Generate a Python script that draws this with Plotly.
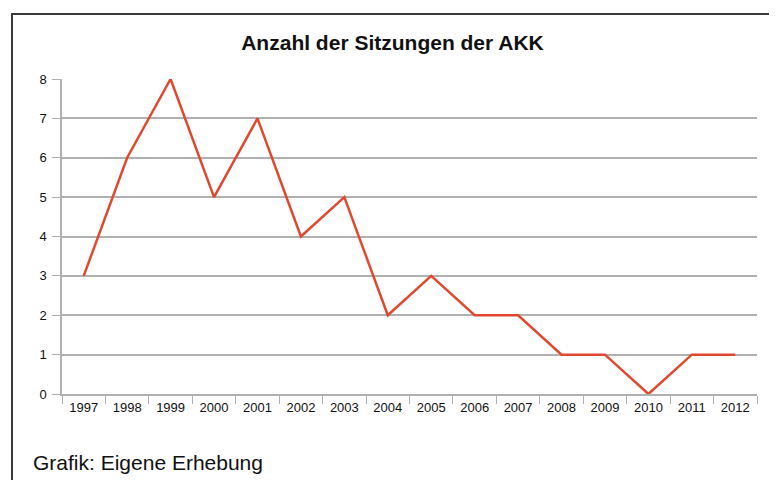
import plotly.graph_objects as go

years = ["1997", "1998", "1999", "2000", "2001", "2002", "2003", "2004",
         "2005", "2006", "2007", "2008", "2009", "2010", "2011", "2012"]
sitzungen = [3, 6, 8, 5, 7, 4, 5, 2, 3, 2, 2, 1, 1, 0, 1, 1]
y_ticks = [0, 1, 2, 3, 4, 5, 6, 7, 8]

# page has an 8px body margin: work in page coordinates and shift
OFF = 8
W, H = 769, 472
L, R, T, B = 62 - OFF, 20, 79 - OFF, 86
pw, ph = W - L - R, H - T - B

def px(x):
    return (x - OFF - L) / pw

def py(y):
    return (H - B - (y - OFF)) / ph

fig = go.Figure()
fig.add_trace(go.Scatter(
    x=years, y=sitzungen, mode="lines",
    line=dict(color="#e0492f", width=2.5),
    hoverinfo="x+y", showlegend=False,
))

fig.update_layout(
    width=W, height=H,
    margin=dict(l=L, r=R, t=T, b=B),
    paper_bgcolor="white", plot_bgcolor="white",
    font=dict(family="Liberation Sans, Arial, Helvetica, sans-serif", color="#111111", size=13),
    title=dict(text="<b>Anzahl der Sitzungen der AKK</b>", x=0.5, xanchor="center",
               y=1 - (43 - OFF) / H, yanchor="middle", font=dict(size=21, color="#111111")),
    xaxis=dict(type="category", range=[-0.5, len(years) - 0.5],
               tickson="boundaries", ticks="outside", ticklen=8,
               tickcolor="#b0b0b0", showgrid=False, showline=True, linecolor="#b0b0b0",
               linewidth=1.5, tickfont=dict(size=13, color="#111111"), ticklabelstandoff=1,
               fixedrange=True),
    yaxis=dict(range=[0, 8], tickvals=y_ticks, ticks="outside", ticklen=8,
               tickcolor="#b0b0b0", showgrid=True, gridcolor="#b0b0b0", gridwidth=1.5,
               showline=True, linecolor="#b0b0b0", linewidth=1.5, zeroline=False,
               tickfont=dict(size=13, color="#111111"), ticklabelstandoff=3, fixedrange=True),
    shapes=[dict(type="rect", xref="paper", yref="paper",
                 x0=px(12), x1=px(W + 40), y0=py(H + 40), y1=py(14),
                 line=dict(color="#3a3a3a", width=2), fillcolor="rgba(0,0,0,0)", layer="above")],
    annotations=[dict(text="Grafik: Eigene Erhebung", xref="paper", yref="paper",
                      x=px(31), y=py(462), xanchor="left", yanchor="middle",
                      showarrow=False, font=dict(size=21, color="#111111"))],
)

fig.write_html("out.html")
